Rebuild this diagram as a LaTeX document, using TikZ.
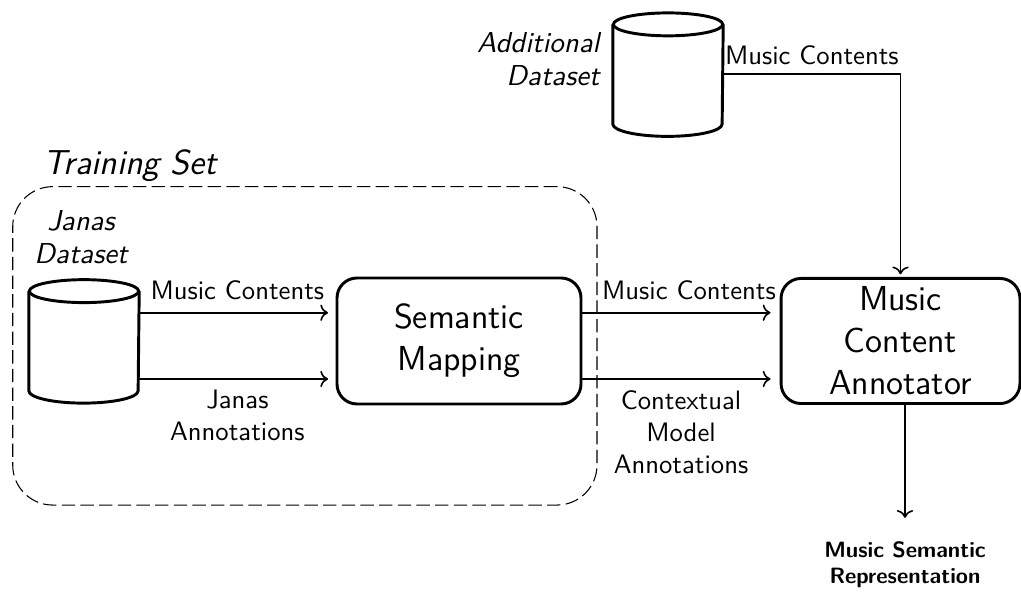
\documentclass[tikz,border=0pt]{standalone}
\usepackage{fontspec}
\usetikzlibrary{arrows.meta,calc,positioning}
\renewcommand{\familydefault}{\sfdefault}

% drum for a data set, drawn round an empty body node
\newcommand{\dbcyl}[1]{%
  \draw[line width=1.1pt] (#1.north west) -- (#1.south west)
    arc[start angle=180,end angle=360,x radius=20.5pt,y radius=4.6pt]
    -- (#1.north east);
  \draw[line width=1.1pt] (#1.north) ellipse[x radius=20.5pt,y radius=4.3pt];
}

\begin{document}
\begin{tikzpicture}[x=0.375pt,y=0.375pt,
  procbox/.style={draw,line width=1.1pt,rounded corners=7.5pt,align=center,inner sep=0pt,
    font=\fontsize{13}{15.7}\selectfont},
  dbbody/.style={inner sep=0pt,minimum width=41pt,minimum height=37pt},
  flow/.style={->,semithick,shorten >=2.8pt},
  lbl/.style={align=center,font=\fontsize{10}{12}\selectfont},
  setname/.style={inner sep=0pt,align=center,font=\fontsize{10.8}{12.4}\selectfont\itshape}]
  \useasboundingbox (0,0) rectangle (1021,598);

  % training set frame
  \node[draw,dash pattern=on 5pt off 2pt,rounded corners=15pt,
    minimum width=219.1pt,minimum height=119.4pt] (trainset) at (304.85,252.15) {};
  \node[anchor=base west,inner sep=0pt,font=\fontsize{13}{15.7}\selectfont\itshape]
    (traintitle) at (43,423) {Training Set};

  % blocks
  \node[procbox,minimum width=91.5pt,minimum height=47.25pt] (sem) at (459,257) {Semantic\\Mapping};
  \node[procbox,minimum width=89.6pt,minimum height=46.9pt] (mca) at (900.5,257) {Music\\Content\\Annotator};

  % data sets
  \node[dbbody] (janas) at (84,257) {};
  \dbcyl{janas}
  \node[setname,anchor=north] (janaslbl) at (81,388) {Janas\\Dataset};

  \node[dbbody] (add) at (668,523.75) {};
  \dbcyl{add}
  \node[setname,anchor=north east,align=right] (addlbl) at (600,566) {Additional\\Dataset};

  \node[inner sep=0pt,anchor=north,align=center,font=\fontsize{8.3}{9.75}\selectfont\bfseries]
    (rep) at (905,56.4) {Music Semantic\\Representation};

  % flows
  \draw[flow] ([yshift=10.6pt]janas.east) -- ([yshift=10.6pt]sem.west)
    node[lbl,midway,above=1.4pt] {Music Contents};
  \draw[flow] ([yshift=-14.25pt]janas.east) -- ([yshift=-14.25pt]sem.west)
    node[lbl,midway,below=0.6pt] {Janas\\Annotations};
  \draw[flow,shorten >=3.4pt] ([yshift=10.6pt]sem.east) -- ([yshift=10.6pt]mca.west)
    node[lbl,pos=0.54,above=1.4pt] {Music Contents};
  \draw[flow,shorten >=3.4pt] ([yshift=-14.25pt]sem.east) -- ([yshift=-14.25pt]mca.west)
    node[lbl,midway,below=0.6pt] {Contextual\\Model\\Annotations};
  \draw[flow,shorten >=1pt] (add.east) -| (mca.north)
    node[lbl,pos=0.25,above] {Music Contents};
  \draw[flow,shorten >=8.9pt] (rep.north |- mca.south) -- (rep.north);
\end{tikzpicture}
\end{document}
